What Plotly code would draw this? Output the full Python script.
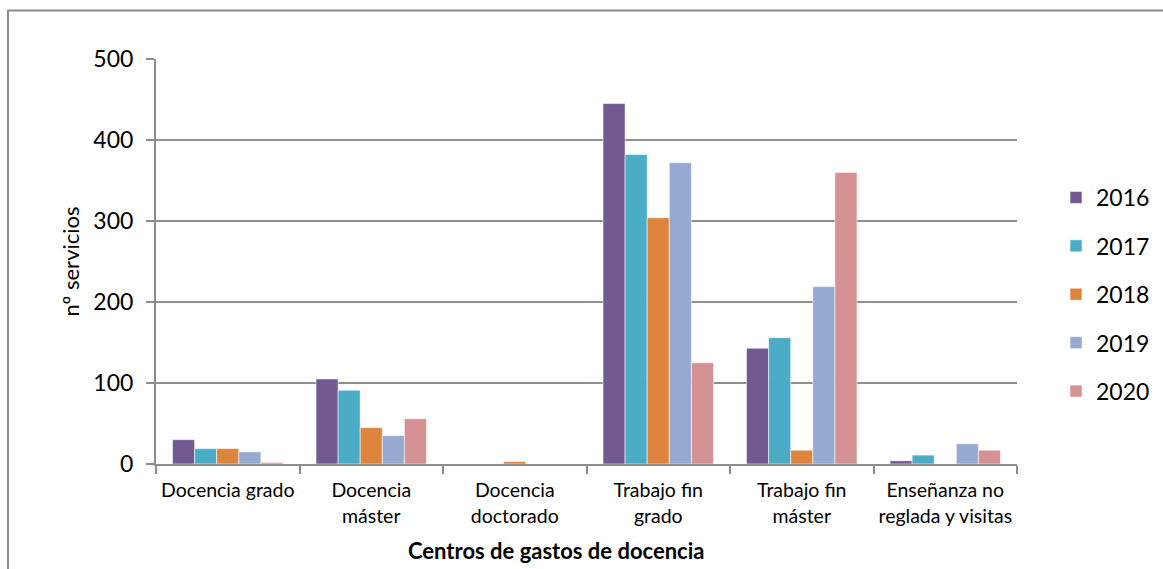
import plotly.graph_objects as go

# Service counts per teaching cost centre, by year
categories = [
    "Docencia grado",
    "Docencia<br>máster",
    "Docencia<br>doctorado",
    "Trabajo fin<br>grado",
    "Trabajo fin<br>máster",
    "Enseñanza no<br>reglada y visitas",
]
years = ["2016", "2017", "2018", "2019", "2020"]
values_2016 = [30, 105, 0, 445, 143, 4]
values_2017 = [19, 91, 0, 382, 156, 11]
values_2018 = [19, 45, 3, 304, 17, 0]
values_2019 = [15, 35, 0, 372, 219, 25]
values_2020 = [2, 56, 0, 125, 360, 17]
y_ticks = [0, 100, 200, 300, 400, 500]

series = [values_2016, values_2017, values_2018, values_2019, values_2020]
colors = ["#72598F", "#4BACC6", "#DD843D", "#95A9D1", "#D49294"]

FONT = "Lato"
W, H = 1163, 569
L, R, T, B = 156, 146, 59, 105
pw, ph = W - L - R, H - T - B

fig = go.Figure()
for name, vals, col in zip(years, series, colors):
    fig.add_trace(go.Bar(
        x=categories, y=vals, name=name, legendgroup=name,
        marker=dict(color=col, line=dict(color="rgba(255,255,255,0.55)", width=1)),
    ))

def px_x(x):
    return (x - L) / pw

def px_y(y):
    return (H - B - y) / ph

fig.update_layout(
    width=W, height=H,
    margin=dict(l=L, r=R, t=T, b=B, autoexpand=False),
    paper_bgcolor="white", plot_bgcolor="white",
    barmode="group", bargap=0.23, bargroupgap=0,
    font=dict(family=FONT, color="#000000"),
    showlegend=True,
    legend=dict(
        x=px_x(1056), xanchor="left",
        y=px_y(176), yanchor="top",
        font=dict(size=23, family=FONT),
        tracegroupgap=15.5,
        traceorder="grouped",
        bgcolor="rgba(0,0,0,0)",
    ),
    xaxis=dict(
        type="category",
        showline=True, linecolor="#8C8C8C", linewidth=2,
        ticks="outside", tickson="boundaries", ticklen=8,
        tickcolor="#8C8C8C", tickwidth=2,
        tickfont=dict(size=19.5, family=FONT),
        tickangle=0, automargin=False,
        ticklabelstandoff=8,
        showgrid=False,
    ),
    yaxis=dict(
        range=[0, 500], tickvals=y_ticks,
        showline=True, linecolor="#8C8C8C", linewidth=2,
        ticks="outside", ticklen=8, tickcolor="#8C8C8C", tickwidth=2,
        tickfont=dict(size=23, family=FONT),
        automargin=False,
        ticklabelstandoff=8,
        showgrid=True, gridcolor="#8F8F8F", gridwidth=1.5,
        zeroline=False,
        title=dict(text="nº servicios", font=dict(size=22, family=FONT), standoff=8),
    ),
    annotations=[
        dict(
            text="<b>Centros de gastos de docencia</b>",
            x=px_x(556), y=px_y(550), xref="paper", yref="paper",
            xanchor="center", yanchor="middle", showarrow=False,
            font=dict(size=22, family=FONT, color="#000000"),
        )
    ],
    shapes=[
        dict(
            type="rect", xref="paper", yref="paper",
            x0=px_x(8), x1=px_x(1175), y0=px_y(585), y1=px_y(10.5),
            line=dict(color="#8C8C8C", width=2), fillcolor="rgba(0,0,0,0)",
            layer="below",
        )
    ],
)

fig.write_html("out.html")
